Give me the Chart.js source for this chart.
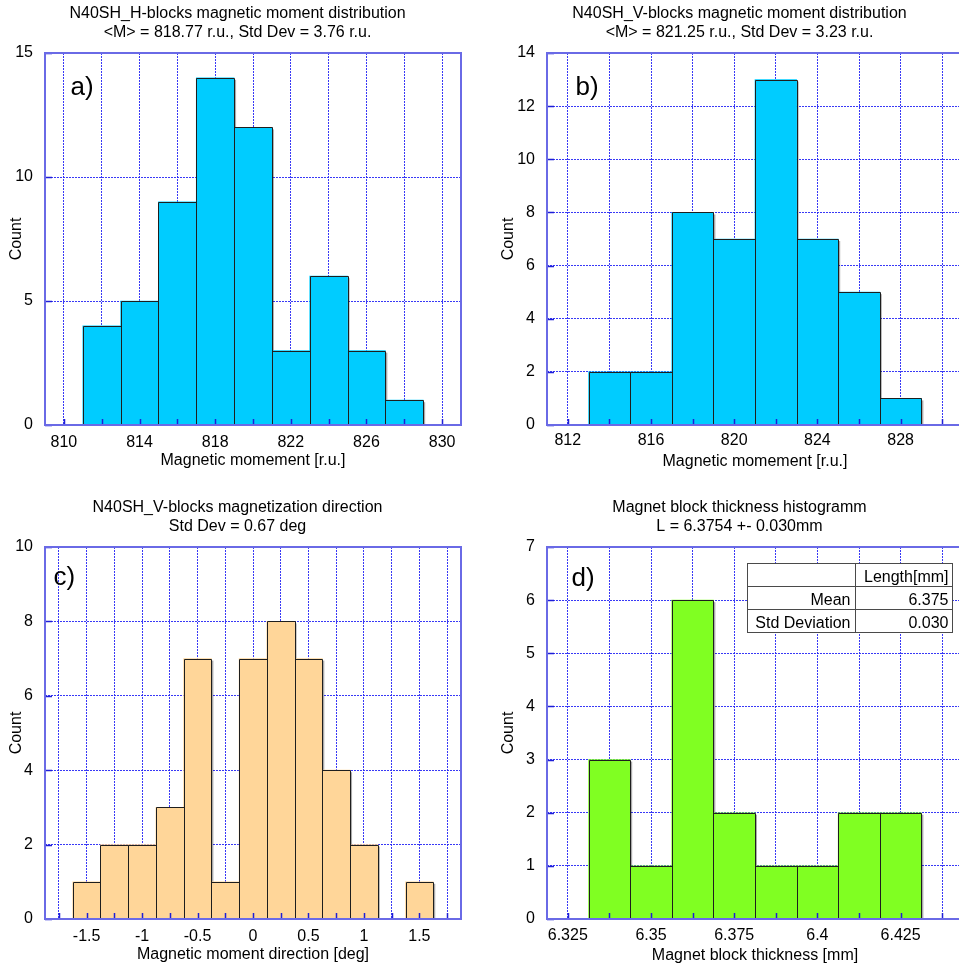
<!DOCTYPE html>
<html>
<head>
<meta charset="utf-8">
<script src="https://cdn.jsdelivr.net/npm/chart.js@4.4.1/dist/chart.umd.min.js"></script>
<style>
  html, body { margin: 0; padding: 0; background: #fff; overflow: hidden; }
  #wrap { position: relative; width: 959px; height: 970px; overflow: hidden; background: #fff; }
  #wrap canvas { position: absolute; }
</style>
</head>
<body>
<div id="wrap">
  <canvas id="chartA" width="480" height="480" style="left:0px;top:0px;width:480px;height:480px"></canvas>
  <canvas id="chartB" width="490" height="480" style="left:480px;top:0px;width:490px;height:480px"></canvas>
  <canvas id="chartC" width="480" height="480" style="left:0px;top:490px;width:480px;height:480px"></canvas>
  <canvas id="chartD" width="490" height="480" style="left:480px;top:490px;width:490px;height:480px"></canvas>
</div>
<script>
// ---- a) H-blocks magnetic moment (bin centres, 2 r.u. wide bins) ----
const aCenters = [812, 814, 816, 818, 820, 822, 824, 826, 828];
const aCounts  = [4, 5, 9, 14, 12, 3, 6, 3, 1];
const aXTicks  = [810, 812, 814, 816, 818, 820, 822, 824, 826, 828, 830];
const aXLabels = ['810', '', '814', '', '818', '', '822', '', '826', '', '830'];
const aYTicks  = [0, 5, 10, 15];

// ---- b) V-blocks magnetic moment ----
const bCenters = [814, 816, 818, 820, 822, 824, 826, 828];
const bCounts  = [2, 2, 8, 7, 13, 7, 5, 1];
const bXTicks  = [812, 814, 816, 818, 820, 822, 824, 826, 828, 830];
const bXLabels = ['812', '', '816', '', '820', '', '824', '', '828', ''];
const bYTicks  = [0, 2, 4, 6, 8, 10, 12, 14];

// ---- c) V-blocks magnetization direction (0.25 deg bins) ----
const cCenters = [-1.5, -1.25, -1, -0.75, -0.5, -0.25, 0, 0.25, 0.5, 0.75, 1, 1.25, 1.5];
const cCounts  = [1, 2, 2, 3, 7, 1, 7, 8, 7, 4, 2, 0, 1];
const cXTicks  = [-1.75, -1.5, -1.25, -1, -0.75, -0.5, -0.25, 0, 0.25, 0.5, 0.75, 1, 1.25, 1.5, 1.75];
const cXLabels = ['', '-1.5', '', '-1', '', '-0.5', '', '0', '', '0.5', '', '1', '', '1.5', ''];
const cYTicks  = [0, 2, 4, 6, 8, 10];

// ---- d) block thickness (0.0125 mm bins) ----
const dCenters = [6.3375, 6.35, 6.3625, 6.375, 6.3875, 6.4, 6.4125, 6.425];
const dCounts  = [3, 1, 6, 2, 1, 1, 2, 2];
const dXTicks  = [6.325, 6.3375, 6.35, 6.3625, 6.375, 6.3875, 6.4, 6.4125, 6.425, 6.4375];
const dXLabels = ['6.325', '', '6.35', '', '6.375', '', '6.4', '', '6.425', ''];
const dYTicks  = [0, 1, 2, 3, 4, 5, 6, 7];
const dTableHeader = ['', 'Length[mm]'];
const dTableNames  = ['Mean', 'Std Deviation'];
const dTableValues = ['6.375', '0.030'];

const FONT = "'Liberation Sans', Arial, Helvetica, sans-serif";
const GRID_BLUE = 'rgba(35,35,245,0.9)';
const FRAME_BLUE = '#6a6ae6';
const TICK_BLUE = 'rgb(30,30,215)';

Chart.defaults.font.family = FONT;
Chart.defaults.font.size = 16;
Chart.defaults.color = '#000';

// Frame, inward ticks, bar outlines/shadows, two-line titles, panel letter, stats table
const panelDecor = {
  id: 'panelDecor',
  beforeDatasetsDraw(chart) {
    const ctx = chart.ctx;
    const data = chart.data.datasets[0].data;
    ctx.save();
    ctx.fillStyle = 'rgba(0,0,0,0.33)';
    chart.getDatasetMeta(0).data.forEach((bar, i) => {
      if (!data[i].y) return;
      const p = bar.getProps(['x', 'y', 'base', 'width'], true);
      ctx.fillRect(p.x + p.width / 2, p.y + 2, 2, p.base - p.y - 2);
    });
    ctx.restore();
  },
  afterDatasetsDraw(chart) {
    const ctx = chart.ctx;
    const data = chart.data.datasets[0].data;
    ctx.save();
    ctx.strokeStyle = '#1e1e1e';
    ctx.lineWidth = 1;
    chart.getDatasetMeta(0).data.forEach((bar, i) => {
      if (!data[i].y) return;
      const p = bar.getProps(['x', 'y', 'base', 'width'], true);
      const l = Math.round(p.x - p.width / 2) + 0.5;
      const r = Math.round(p.x + p.width / 2) + 0.5;
      const t = Math.round(p.y) + 0.5;
      const b = Math.round(p.base);
      ctx.beginPath();
      ctx.moveTo(l, b); ctx.lineTo(l, t); ctx.lineTo(r, t); ctx.lineTo(r, b);
      ctx.stroke();
    });
    ctx.restore();
  },
  afterDraw(chart, args, opts) {
    const { ctx, chartArea: a, scales } = chart;
    ctx.save();
    // inward tick marks
    ctx.strokeStyle = TICK_BLUE;
    ctx.lineWidth = 1.5;
    ctx.beginPath();
    scales.x.ticks.forEach((t, i) => {
      const px = Math.round(scales.x.getPixelForTick(i)) + 0.5;
      ctx.moveTo(px, a.bottom); ctx.lineTo(px, a.bottom - 6);
    });
    scales.y.ticks.forEach((t, i) => {
      const py = Math.round(scales.y.getPixelForTick(i)) + 0.5;
      ctx.moveTo(a.left, py); ctx.lineTo(a.left + 7, py);
    });
    ctx.stroke();
    // plot frame
    ctx.strokeStyle = FRAME_BLUE;
    ctx.lineWidth = 2;
    ctx.strokeRect(a.left, a.top, a.right - a.left, a.bottom - a.top);

    // titles
    ctx.fillStyle = '#000';
    ctx.font = '16px ' + FONT;
    ctx.textAlign = 'center';
    ctx.textBaseline = 'alphabetic';
    const cx = (a.left + a.right) / 2 - 15.5;
    ctx.fillText(opts.title[0], cx, a.top - 35.5);
    ctx.fillText(opts.title[1], cx, a.top - 16.5);

    // panel letter
    ctx.font = '26px ' + FONT;
    ctx.textAlign = 'left';
    ctx.fillText(opts.letter, a.left + opts.letterDx, a.top + opts.letterDy);

    // statistics table
    if (opts.table) {
      const tx = Math.round(a.left + 200) + 0.5, ty = Math.round(a.top + 16) + 0.5;
      const c1 = 108, c2 = 97, rh = 23;
      const rows = [dTableHeader].concat(dTableNames.map((n, i) => [n, dTableValues[i]]));
      ctx.fillStyle = '#fff';
      ctx.fillRect(tx, ty, c1 + c2, rh * rows.length);
      ctx.strokeStyle = '#4a4a4a';
      ctx.lineWidth = 1;
      ctx.strokeRect(tx, ty, c1 + c2, rh * rows.length);
      ctx.beginPath();
      ctx.moveTo(tx + c1, ty); ctx.lineTo(tx + c1, ty + rh * rows.length);
      for (let r = 1; r < rows.length; r++) {
        ctx.moveTo(tx, ty + rh * r); ctx.lineTo(tx + c1 + c2, ty + rh * r);
      }
      ctx.stroke();
      ctx.fillStyle = '#000';
      ctx.font = '16px ' + FONT;
      ctx.textAlign = 'right';
      rows.forEach((row, r) => {
        const by = ty + rh * r + 18.5;
        ctx.fillText(row[0], tx + c1 - 5, by);
        ctx.fillText(row[1], tx + c1 + c2 - 4, by);
      });
    }
    ctx.restore();
  }
};

function makeHistogram(id, spec) {
  const points = spec.centers.map((x, i) => ({ x: x, y: spec.counts[i] }));
  return new Chart(document.getElementById(id), {
    type: 'bar',
    data: {
      datasets: [{
        data: points,
        backgroundColor: spec.color,
        borderWidth: 0,
        barPercentage: 1,
        categoryPercentage: 1
      }]
    },
    plugins: [panelDecor],
    options: {
      responsive: false,
      animation: false,
      devicePixelRatio: 1,
      layout: { padding: spec.padding },
      plugins: {
        legend: { display: false },
        tooltip: { enabled: false },
        title: { display: false },
        panelDecor: { title: spec.title, letter: spec.letter, letterDx: spec.letterDx, letterDy: spec.letterDy, table: spec.table }
      },
      scales: {
        x: {
          type: 'linear',
          min: spec.xMin,
          max: spec.xMax,
          offset: false,
          afterBuildTicks: (s) => { s.ticks = spec.xTicks.map(v => ({ value: v })); },
          afterFit: (s) => { s.height = spec.xHeight; },
          ticks: {
            autoSkip: false,
            maxRotation: 0,
            padding: spec.xTickPad,
            font: { size: 16 },
            color: '#000',
            callback: (v, i) => spec.xLabels[i]
          },
          grid: { display: true, offset: false, color: GRID_BLUE, lineWidth: 1, drawTicks: false },
          border: { display: false, dash: [2, 1] },
          title: { display: true, text: spec.xTitle, font: { size: 16 }, color: '#000', padding: { top: 0, bottom: spec.xTitlePad } }
        },
        y: {
          type: 'linear',
          min: 0,
          max: spec.yMax,
          afterBuildTicks: (s) => { s.ticks = spec.yTicks.map(v => ({ value: v })); },
          afterFit: (s) => { s.width = spec.yWidth; },
          ticks: {
            padding: 12,
            font: { size: 16 },
            color: '#000',
            callback: (v) => String(v)
          },
          grid: { display: true, color: GRID_BLUE, lineWidth: 1, drawTicks: false },
          border: { display: false, dash: [2, 1] },
          title: { display: true, text: 'Count', font: { size: 16 }, color: '#000', padding: { top: spec.yTitlePad, bottom: 0 } }
        }
      }
    }
  });
}

makeHistogram('chartA', {
  centers: aCenters, counts: aCounts, color: '#00CCFF',
  xMin: 809, xMax: 831, xTicks: aXTicks, xLabels: aXLabels,
  yMax: 15, yTicks: aYTicks,
  xTitle: 'Magnetic momement [r.u.]',
  title: ['N40SH_H-blocks magnetic moment distribution', '<M> = 818.77 r.u., Std Dev = 3.76 r.u.'],
  letter: 'a)', letterDx: 25.5, letterDy: 42,
  padding: { left: 0, top: 53, right: 19, bottom: 0 },
  yWidth: 45, xHeight: 55, xTickPad: 8, xTitlePad: 10, yTitlePad: 7
});

makeHistogram('chartB', {
  centers: bCenters, counts: bCounts, color: '#00CCFF',
  xMin: 811, xMax: 831, xTicks: bXTicks, xLabels: bXLabels,
  yMax: 14, yTicks: bYTicks,
  xTitle: 'Magnetic momement [r.u.]',
  title: ['N40SH_V-blocks magnetic moment distribution', '<M> = 821.25 r.u., Std Dev = 3.23 r.u.'],
  letter: 'b)', letterDx: 28.5, letterDy: 42,
  padding: { left: 0, top: 53, right: 7, bottom: 0 },
  yWidth: 67, xHeight: 55, xTickPad: 6, xTitlePad: 8.5, yTitlePad: 19
});

makeHistogram('chartC', {
  centers: cCenters, counts: cCounts, color: '#FFD699',
  xMin: -1.875, xMax: 1.875, xTicks: cXTicks, xLabels: cXLabels,
  yMax: 10, yTicks: cYTicks,
  xTitle: 'Magnetic moment direction [deg]',
  title: ['N40SH_V-blocks magnetization direction', 'Std Dev = 0.67 deg'],
  letter: 'c)', letterDx: 8.5, letterDy: 38,
  padding: { left: 0, top: 57, right: 19, bottom: 0 },
  yWidth: 45, xHeight: 51, xTickPad: 8, xTitlePad: 6, yTitlePad: 7
});

makeHistogram('chartD', {
  centers: dCenters, counts: dCounts, color: '#80FF22',
  xMin: 6.31875, xMax: 6.44375, xTicks: dXTicks, xLabels: dXLabels,
  yMax: 7, yTicks: dYTicks,
  xTitle: 'Magnet block thickness [mm]',
  title: ['Magnet block thickness histogramm', 'L = 6.3754 +- 0.030mm'],
  letter: 'd)', letterDx: 24.5, letterDy: 39,
  padding: { left: 0, top: 57, right: 7, bottom: 0 },
  yWidth: 67, xHeight: 51, xTickPad: 7, xTitlePad: 4.5, yTitlePad: 19,
  table: true
});
</script>
</body>
</html>
